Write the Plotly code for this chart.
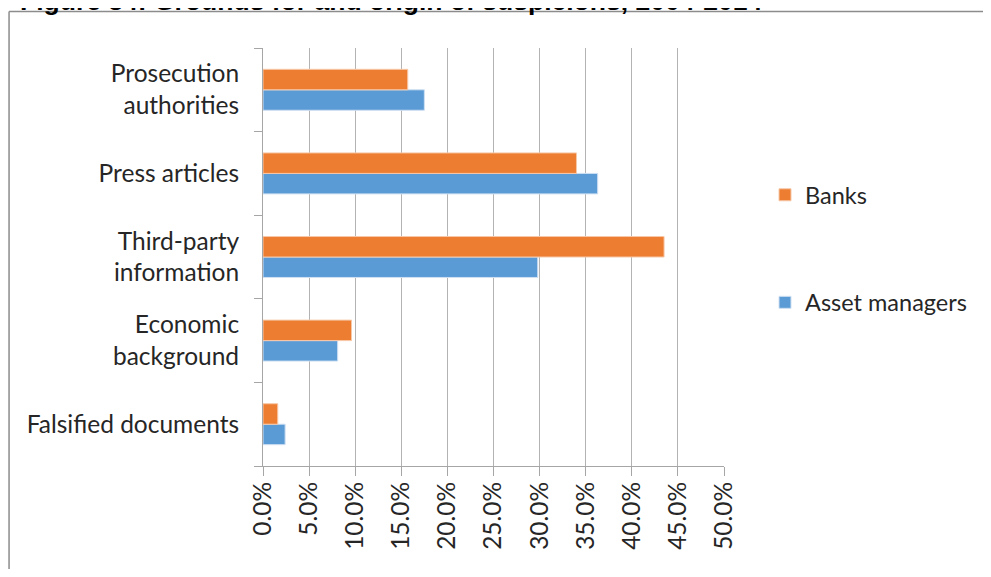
import plotly.graph_objects as go

# categories listed bottom -> top (plotly puts the first category at the bottom)
categories = ["Falsified documents", "Economic<br>background", "Third-party<br>information",
              "Press articles", "Prosecution<br>authorities"]
banks = [0.016, 0.096, 0.435, 0.340, 0.157]
asset_managers = [0.024, 0.081, 0.298, 0.363, 0.175]
x_ticks = [0, 0.05, 0.10, 0.15, 0.20, 0.25, 0.30, 0.35, 0.40, 0.45, 0.50]

# the page body adds an 8px margin on every side, so the figure is shrunk
# and shifted to keep the page from overflowing the window
OFF = 8
W, H = 991 - 2 * OFF, 577 - 2 * OFF
L, T = 263 - OFF, 48 - OFF
R = W - (725 - OFF)
B = H - (466 - OFF)
pw, ph = W - L - R, H - T - B


def px_x(x):
    # target page pixel -> paper coordinate
    return (x - OFF - L) / pw


def px_y(y):
    return (H - B - (y - OFF)) / ph


font = "Lato, Calibri, sans-serif"
txt = "#262626"

fig = go.Figure()
fig.add_trace(go.Bar(y=categories, x=asset_managers, orientation="h", name="Asset managers",
                     marker=dict(color="#5B9BD5", line=dict(color="#cfe0f2", width=1)),
                     legendgroup="am", legendrank=2))
fig.add_trace(go.Bar(y=categories, x=banks, orientation="h", name="Banks",
                     marker=dict(color="#ED7D31", line=dict(color="#f7c8a8", width=1)),
                     legendgroup="banks", legendrank=1))

fig.update_layout(
    width=W, height=H,
    margin=dict(l=L, r=R, t=T, b=B),
    paper_bgcolor="white", plot_bgcolor="white",
    barmode="group", bargap=0.51, bargroupgap=0,
    font=dict(family=font, size=24.5, color=txt),
    legend=dict(x=px_x(765), y=px_y(173), xanchor="left", yanchor="top",
                traceorder="grouped", tracegroupgap=74,
                font=dict(family=font, size=23.5, color=txt)),
    xaxis=dict(range=[0, 0.5], tickvals=x_ticks, tickformat=".1%", tickangle=-90,
               showgrid=True, gridcolor="#b3b3b3", gridwidth=1,
               showline=True, linecolor="#a6a6a6", linewidth=1,
               ticks="outside", ticklen=9, tickcolor="#a6a6a6",
               ticklabelstandoff=-4,
               zeroline=False, fixedrange=True),
    yaxis=dict(showline=True, linecolor="#a6a6a6", linewidth=1,
               ticks="outside", ticklen=8, tickcolor="#a6a6a6", tickson="boundaries",
               ticklabelstandoff=18, showgrid=False, fixedrange=True),
)

# outer frame (top and left edges visible)
fig.add_shape(type="line", xref="paper", yref="paper",
              x0=px_x(8.5), x1=px_x(1000), y0=px_y(11.5), y1=px_y(11.5),
              line=dict(color="#8c8c8c", width=1.5))
fig.add_shape(type="line", xref="paper", yref="paper",
              x0=px_x(8.5), x1=px_x(8.5), y0=px_y(11.5), y1=px_y(600),
              line=dict(color="#8c8c8c", width=1.5))

# figure title, cut off by the top of the image
fig.add_annotation(text="<b>Figure 34: Grounds for and origin of suspicions, 2004-2014</b>",
                   xref="paper", yref="paper", x=px_x(17), y=px_y(18),
                   xanchor="left", yanchor="bottom", showarrow=False,
                   font=dict(family="Liberation Sans, Arial", size=26.5, color="black"))

fig.write_html("out.html")
